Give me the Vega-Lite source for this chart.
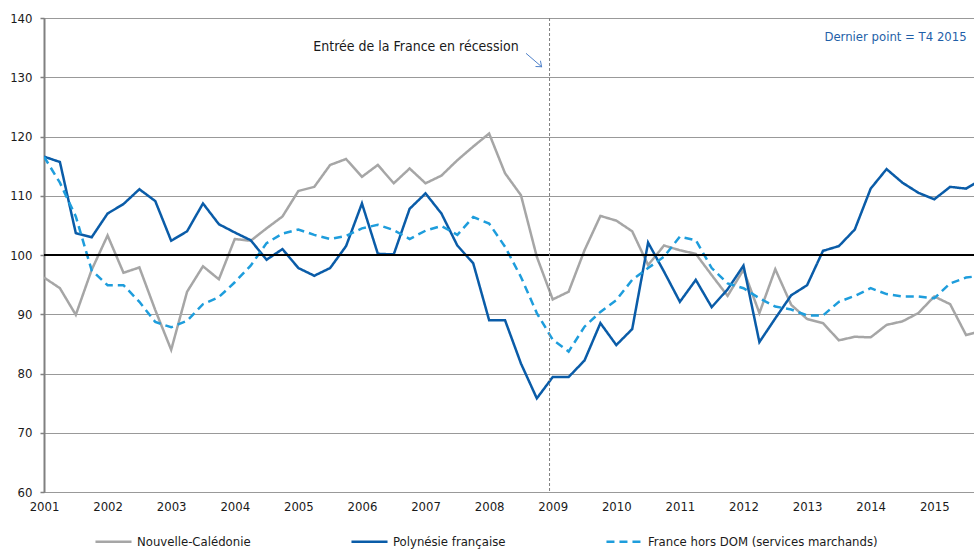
{
  "$schema": "https://vega.github.io/schema/vega-lite/v6.json",
  "width": 930,
  "height": 474,
  "autosize": {"type": "none"},
  "padding": {"left": 44, "top": 18, "right": 0, "bottom": 57},
  "config": {
    "font": "DejaVu Sans Condensed",
    "view": {"stroke": null},
    "axisX": {"domain": false, "ticks": false, "grid": false, "labelFontSize": 13, "labelColor": "#1a1a1a", "labelPadding": 8, "labelFlush": false, "labelOverlap": false},
    "axisY": {"grid": true, "gridDash": [1, 1], "gridColor": "#333333", "gridWidth": 1, "domainColor": "#808080", "domainWidth": 2, "tickColor": "#808080", "tickSize": 4, "tickWidth": 1.5, "labelFontSize": 13, "labelColor": "#1a1a1a", "labelPadding": 8},
    "legend": {
      "orient": "none", "legendX": 50, "legendY": 504, "direction": "horizontal",
      "columnPadding": 95, "symbolType": "stroke", "symbolSize": 1300, "symbolStrokeWidth": 2.5,
      "labelFontSize": 13, "labelColor": "#1a1a1a", "labelOffset": 4, "labelLimit": 400, "title": null
    }
  },
  "datasets": {
    "series": [
      {"s":"Nouvelle-Calédonie","t":2001,"v":96.2},{"s":"Nouvelle-Calédonie","t":2001.25,"v":94.4},{"s":"Nouvelle-Calédonie","t":2001.5,"v":89.9},{"s":"Nouvelle-Calédonie","t":2001.75,"v":97.5},
      {"s":"Nouvelle-Calédonie","t":2002,"v":103.3},{"s":"Nouvelle-Calédonie","t":2002.25,"v":97.0},{"s":"Nouvelle-Calédonie","t":2002.5,"v":97.9},{"s":"Nouvelle-Calédonie","t":2002.75,"v":90.7},
      {"s":"Nouvelle-Calédonie","t":2003,"v":84.0},{"s":"Nouvelle-Calédonie","t":2003.25,"v":93.8},{"s":"Nouvelle-Calédonie","t":2003.5,"v":98.1},{"s":"Nouvelle-Calédonie","t":2003.75,"v":95.9},
      {"s":"Nouvelle-Calédonie","t":2004,"v":102.7},{"s":"Nouvelle-Calédonie","t":2004.25,"v":102.4},{"s":"Nouvelle-Calédonie","t":2004.5,"v":104.5},{"s":"Nouvelle-Calédonie","t":2004.75,"v":106.5},
      {"s":"Nouvelle-Calédonie","t":2005,"v":110.8},{"s":"Nouvelle-Calédonie","t":2005.25,"v":111.5},{"s":"Nouvelle-Calédonie","t":2005.5,"v":115.2},{"s":"Nouvelle-Calédonie","t":2005.75,"v":116.2},
      {"s":"Nouvelle-Calédonie","t":2006,"v":113.2},{"s":"Nouvelle-Calédonie","t":2006.25,"v":115.2},{"s":"Nouvelle-Calédonie","t":2006.5,"v":112.1},{"s":"Nouvelle-Calédonie","t":2006.75,"v":114.6},
      {"s":"Nouvelle-Calédonie","t":2007,"v":112.1},{"s":"Nouvelle-Calédonie","t":2007.25,"v":113.4},{"s":"Nouvelle-Calédonie","t":2007.5,"v":116.0},{"s":"Nouvelle-Calédonie","t":2007.75,"v":118.3},
      {"s":"Nouvelle-Calédonie","t":2008,"v":120.5},{"s":"Nouvelle-Calédonie","t":2008.25,"v":113.8},{"s":"Nouvelle-Calédonie","t":2008.5,"v":110.1},{"s":"Nouvelle-Calédonie","t":2008.75,"v":99.7},
      {"s":"Nouvelle-Calédonie","t":2009,"v":92.5},{"s":"Nouvelle-Calédonie","t":2009.25,"v":93.8},{"s":"Nouvelle-Calédonie","t":2009.5,"v":100.8},{"s":"Nouvelle-Calédonie","t":2009.75,"v":106.6},
      {"s":"Nouvelle-Calédonie","t":2010,"v":105.8},{"s":"Nouvelle-Calédonie","t":2010.25,"v":104.0},{"s":"Nouvelle-Calédonie","t":2010.5,"v":98.3},{"s":"Nouvelle-Calédonie","t":2010.75,"v":101.6},
      {"s":"Nouvelle-Calédonie","t":2011,"v":100.8},{"s":"Nouvelle-Calédonie","t":2011.25,"v":100.2},{"s":"Nouvelle-Calédonie","t":2011.5,"v":96.6},{"s":"Nouvelle-Calédonie","t":2011.75,"v":93.1},
      {"s":"Nouvelle-Calédonie","t":2012,"v":97.5},{"s":"Nouvelle-Calédonie","t":2012.25,"v":90.2},{"s":"Nouvelle-Calédonie","t":2012.5,"v":97.6},{"s":"Nouvelle-Calédonie","t":2012.75,"v":91.6},
      {"s":"Nouvelle-Calédonie","t":2013,"v":89.2},{"s":"Nouvelle-Calédonie","t":2013.25,"v":88.5},{"s":"Nouvelle-Calédonie","t":2013.5,"v":85.6},{"s":"Nouvelle-Calédonie","t":2013.75,"v":86.2},
      {"s":"Nouvelle-Calédonie","t":2014,"v":86.1},{"s":"Nouvelle-Calédonie","t":2014.25,"v":88.2},{"s":"Nouvelle-Calédonie","t":2014.5,"v":88.8},{"s":"Nouvelle-Calédonie","t":2014.75,"v":90.2},
      {"s":"Nouvelle-Calédonie","t":2015,"v":93.0},{"s":"Nouvelle-Calédonie","t":2015.25,"v":91.7},{"s":"Nouvelle-Calédonie","t":2015.5,"v":86.5},{"s":"Nouvelle-Calédonie","t":2015.75,"v":87.2},

      {"s":"Polynésie française","t":2001,"v":116.6},{"s":"Polynésie française","t":2001.25,"v":115.7},{"s":"Polynésie française","t":2001.5,"v":103.7},{"s":"Polynésie française","t":2001.75,"v":103.0},
      {"s":"Polynésie française","t":2002,"v":107.0},{"s":"Polynésie française","t":2002.25,"v":108.6},{"s":"Polynésie française","t":2002.5,"v":111.1},{"s":"Polynésie française","t":2002.75,"v":109.1},
      {"s":"Polynésie française","t":2003,"v":102.4},{"s":"Polynésie française","t":2003.25,"v":104.0},{"s":"Polynésie française","t":2003.5,"v":108.7},{"s":"Polynésie française","t":2003.75,"v":105.2},
      {"s":"Polynésie française","t":2004,"v":103.8},{"s":"Polynésie française","t":2004.25,"v":102.5},{"s":"Polynésie française","t":2004.5,"v":99.2},{"s":"Polynésie française","t":2004.75,"v":101.0},
      {"s":"Polynésie française","t":2005,"v":97.8},{"s":"Polynésie française","t":2005.25,"v":96.5},{"s":"Polynésie française","t":2005.5,"v":97.8},{"s":"Polynésie française","t":2005.75,"v":101.5},
      {"s":"Polynésie française","t":2006,"v":108.7},{"s":"Polynésie française","t":2006.25,"v":100.2},{"s":"Polynésie française","t":2006.5,"v":100.1},{"s":"Polynésie française","t":2006.75,"v":107.8},
      {"s":"Polynésie française","t":2007,"v":110.4},{"s":"Polynésie française","t":2007.25,"v":107.0},{"s":"Polynésie française","t":2007.5,"v":101.6},{"s":"Polynésie française","t":2007.75,"v":98.6},
      {"s":"Polynésie française","t":2008,"v":89.0},{"s":"Polynésie française","t":2008.25,"v":89.0},{"s":"Polynésie française","t":2008.5,"v":81.7},{"s":"Polynésie française","t":2008.75,"v":75.8},
      {"s":"Polynésie française","t":2009,"v":79.4},{"s":"Polynésie française","t":2009.25,"v":79.4},{"s":"Polynésie française","t":2009.5,"v":82.2},{"s":"Polynésie française","t":2009.75,"v":88.5},
      {"s":"Polynésie française","t":2010,"v":84.8},{"s":"Polynésie française","t":2010.25,"v":87.5},{"s":"Polynésie française","t":2010.5,"v":102.1},{"s":"Polynésie française","t":2010.75,"v":97.2},
      {"s":"Polynésie française","t":2011,"v":92.1},{"s":"Polynésie française","t":2011.25,"v":95.8},{"s":"Polynésie française","t":2011.5,"v":91.2},{"s":"Polynésie française","t":2011.75,"v":94.2},
      {"s":"Polynésie française","t":2012,"v":98.2},{"s":"Polynésie française","t":2012.25,"v":85.3},{"s":"Polynésie française","t":2012.5,"v":89.3},{"s":"Polynésie française","t":2012.75,"v":93.2},
      {"s":"Polynésie française","t":2013,"v":94.9},{"s":"Polynésie française","t":2013.25,"v":100.7},{"s":"Polynésie française","t":2013.5,"v":101.5},{"s":"Polynésie française","t":2013.75,"v":104.3},
      {"s":"Polynésie française","t":2014,"v":111.2},{"s":"Polynésie française","t":2014.25,"v":114.5},{"s":"Polynésie française","t":2014.5,"v":112.2},{"s":"Polynésie française","t":2014.75,"v":110.5},
      {"s":"Polynésie française","t":2015,"v":109.4},{"s":"Polynésie française","t":2015.25,"v":111.5},{"s":"Polynésie française","t":2015.5,"v":111.2},{"s":"Polynésie française","t":2015.75,"v":112.8},

      {"s":"France hors DOM (services marchands)","t":2001,"v":116.6},{"s":"France hors DOM (services marchands)","t":2001.25,"v":112.2},{"s":"France hors DOM (services marchands)","t":2001.5,"v":106.5},{"s":"France hors DOM (services marchands)","t":2001.75,"v":97.4},
      {"s":"France hors DOM (services marchands)","t":2002,"v":94.9},{"s":"France hors DOM (services marchands)","t":2002.25,"v":94.9},{"s":"France hors DOM (services marchands)","t":2002.5,"v":92.1},{"s":"France hors DOM (services marchands)","t":2002.75,"v":88.7},
      {"s":"France hors DOM (services marchands)","t":2003,"v":87.8},{"s":"France hors DOM (services marchands)","t":2003.25,"v":88.9},{"s":"France hors DOM (services marchands)","t":2003.5,"v":91.7},{"s":"France hors DOM (services marchands)","t":2003.75,"v":92.9},
      {"s":"France hors DOM (services marchands)","t":2004,"v":95.4},{"s":"France hors DOM (services marchands)","t":2004.25,"v":98.2},{"s":"France hors DOM (services marchands)","t":2004.5,"v":102.0},{"s":"France hors DOM (services marchands)","t":2004.75,"v":103.6},
      {"s":"France hors DOM (services marchands)","t":2005,"v":104.3},{"s":"France hors DOM (services marchands)","t":2005.25,"v":103.4},{"s":"France hors DOM (services marchands)","t":2005.5,"v":102.7},{"s":"France hors DOM (services marchands)","t":2005.75,"v":103.2},
      {"s":"France hors DOM (services marchands)","t":2006,"v":104.5},{"s":"France hors DOM (services marchands)","t":2006.25,"v":105.1},{"s":"France hors DOM (services marchands)","t":2006.5,"v":104.2},{"s":"France hors DOM (services marchands)","t":2006.75,"v":102.7},
      {"s":"France hors DOM (services marchands)","t":2007,"v":104.1},{"s":"France hors DOM (services marchands)","t":2007.25,"v":104.9},{"s":"France hors DOM (services marchands)","t":2007.5,"v":103.4},{"s":"France hors DOM (services marchands)","t":2007.75,"v":106.4},
      {"s":"France hors DOM (services marchands)","t":2008,"v":105.3},{"s":"France hors DOM (services marchands)","t":2008.25,"v":101.4},{"s":"France hors DOM (services marchands)","t":2008.5,"v":96.3},{"s":"France hors DOM (services marchands)","t":2008.75,"v":90.2},
      {"s":"France hors DOM (services marchands)","t":2009,"v":85.7},{"s":"France hors DOM (services marchands)","t":2009.25,"v":83.7},{"s":"France hors DOM (services marchands)","t":2009.5,"v":87.9},{"s":"France hors DOM (services marchands)","t":2009.75,"v":90.4},
      {"s":"France hors DOM (services marchands)","t":2010,"v":92.4},{"s":"France hors DOM (services marchands)","t":2010.25,"v":95.8},{"s":"France hors DOM (services marchands)","t":2010.5,"v":97.8},{"s":"France hors DOM (services marchands)","t":2010.75,"v":99.7},
      {"s":"France hors DOM (services marchands)","t":2011,"v":103.1},{"s":"France hors DOM (services marchands)","t":2011.25,"v":102.5},{"s":"France hors DOM (services marchands)","t":2011.5,"v":97.8},{"s":"France hors DOM (services marchands)","t":2011.75,"v":95.2},
      {"s":"France hors DOM (services marchands)","t":2012,"v":94.4},{"s":"France hors DOM (services marchands)","t":2012.25,"v":92.7},{"s":"France hors DOM (services marchands)","t":2012.5,"v":91.3},{"s":"France hors DOM (services marchands)","t":2012.75,"v":90.8},
      {"s":"France hors DOM (services marchands)","t":2013,"v":89.8},{"s":"France hors DOM (services marchands)","t":2013.25,"v":89.8},{"s":"France hors DOM (services marchands)","t":2013.5,"v":92.1},{"s":"France hors DOM (services marchands)","t":2013.75,"v":93.1},
      {"s":"France hors DOM (services marchands)","t":2014,"v":94.4},{"s":"France hors DOM (services marchands)","t":2014.25,"v":93.4},{"s":"France hors DOM (services marchands)","t":2014.5,"v":93.0},{"s":"France hors DOM (services marchands)","t":2014.75,"v":93.0},
      {"s":"France hors DOM (services marchands)","t":2015,"v":92.7},{"s":"France hors DOM (services marchands)","t":2015.25,"v":95.2},{"s":"France hors DOM (services marchands)","t":2015.5,"v":96.2},{"s":"France hors DOM (services marchands)","t":2015.75,"v":96.5}
    ]
  },
  "layer": [
    {
      "data": {"name": "series"},
      "mark": {"type": "line", "strokeWidth": 2.5, "clip": true},
      "encoding": {
        "x": {"field": "t", "type": "quantitative", "title": null,
              "scale": {"domain": [2001, 2015.625], "nice": false, "zero": false},
              "axis": {"title": null, "values": [2001,2002,2003,2004,2005,2006,2007,2008,2009,2010,2011,2012,2013,2014,2015], "format": "d"}},
        "y": {"field": "v", "type": "quantitative", "title": null,
              "scale": {"domain": [60, 140], "nice": false, "zero": false},
              "axis": {"title": null, "values": [60,70,80,90,100,110,120,130,140]}},
        "color": {"field": "s", "type": "nominal",
                  "scale": {"domain": ["Nouvelle-Calédonie", "Polynésie française", "France hors DOM (services marchands)"],
                            "range": ["#a6a6a6", "#0a5ca8", "#1e9ddc"]},
                  "legend": {"title": null}},
        "strokeDash": {"field": "s", "type": "nominal",
                       "scale": {"domain": ["Nouvelle-Calédonie", "Polynésie française", "France hors DOM (services marchands)"],
                                 "range": [[1, 0], [1, 0], [8, 5]]},
                       "legend": {"title": null}}
      }
    },
    {
      "data": {"values": [{"y": 100}]},
      "mark": {"type": "rule", "color": "#000000", "strokeWidth": 2},
      "encoding": {"y": {"field": "y", "type": "quantitative", "title": null}}
    },
    {
      "data": {"values": [{"x": 2008.95}]},
      "mark": {"type": "rule", "color": "#7f7f7f", "strokeWidth": 1, "strokeDash": [3, 2]},
      "encoding": {"x": {"field": "x", "type": "quantitative", "title": null}}
    },
    {
      "data": {"values": [{"x": 2006.85, "y": 135.1, "label": "Entrée de la France en récession"}]},
      "mark": {"type": "text", "fontSize": 14, "color": "#1a1a1a", "align": "center", "baseline": "middle"},
      "encoding": {
        "x": {"field": "x", "type": "quantitative", "title": null},
        "y": {"field": "y", "type": "quantitative", "title": null},
        "text": {"field": "label"}
      }
    },
    {
      "data": {"values": [{"x": 2015.51, "y": 136.8, "label": "Dernier point = T4 2015"}]},
      "mark": {"type": "text", "fontSize": 13, "color": "#1f5fa8", "align": "right", "baseline": "middle"},
      "encoding": {
        "x": {"field": "x", "type": "quantitative", "title": null},
        "y": {"field": "y", "type": "quantitative", "title": null},
        "text": {"field": "label"}
      }
    },
    {
      "data": {"values": [{"x": 2008.58, "y": 134.04, "x2": 2008.825, "y2": 131.78}]},
      "mark": {"type": "rule", "color": "#4f81c9", "strokeWidth": 1},
      "encoding": {
        "x": {"field": "x", "type": "quantitative", "title": null},
        "y": {"field": "y", "type": "quantitative", "title": null},
        "x2": {"field": "x2"},
        "y2": {"field": "y2"}
      }
    },
    {
      "data": {"values": [{"x": 2008.825, "y": 131.78}]},
      "mark": {"type": "point", "shape": "M -1 -0.8 L 0 0 L -1 0.8", "filled": false, "size": 90, "angle": 40.5, "color": "#4f81c9", "strokeWidth": 1, "opacity": 1},
      "encoding": {
        "x": {"field": "x", "type": "quantitative", "title": null},
        "y": {"field": "y", "type": "quantitative", "title": null}
      }
    }
  ]
}
